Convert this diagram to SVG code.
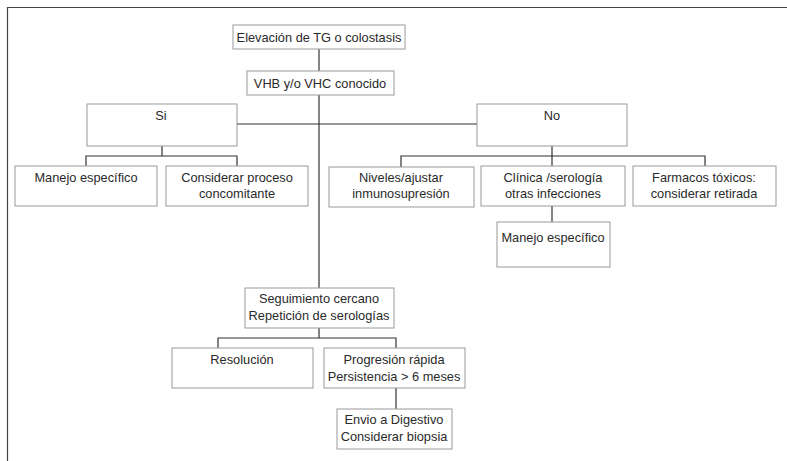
<svg xmlns="http://www.w3.org/2000/svg" width="787" height="461" viewBox="0 0 787 461">
<style>
.box{fill:#fff;stroke:#9a9a9a;stroke-width:1}
.t{font-family:"Liberation Sans",Arial,sans-serif;font-size:12.8px;fill:#2a2a2a;text-anchor:middle}
.c{fill:none;stroke:#333;stroke-width:1.2}
.frame{fill:none;stroke:#444;stroke-width:1.2}
</style>
<rect width="787" height="461" fill="#fff"/>
<path class="frame" d="M7.5,461 V7.5 H787"/>
<g id="connectors">
<path class="c" d="M319,49 V71"/>
<path class="c" d="M319,95 V288"/>
<path class="c" d="M237,124 H477"/>
<path class="c" d="M162,146 V156 M86,166 V156 H237 V166"/>
<path class="c" d="M552,146 V156 M401,167 V156 H705 V166 M552,156 V166"/>
<path class="c" d="M552,206 V222"/>
<path class="c" d="M319,328 V338 M218,348 V338 H396 V348"/>
<path class="c" d="M396,388 V409"/>
</g>
<g id="n1"><rect class="box" x="233" y="25" width="172" height="24"/><text class="t" x="319" y="41.5">Elevación de TG o colostasis</text></g>
<g id="n2"><rect class="box" x="247" y="71" width="147" height="24"/><text class="t" x="320" y="87.5">VHB y/o VHC conocido</text></g>
<g id="n3"><rect class="box" x="87" y="104" width="150" height="42"/><text class="t" x="161" y="120">Si</text></g>
<g id="n4"><rect class="box" x="477" y="104" width="150" height="42"/><text class="t" x="552" y="120">No</text></g>
<g id="n5"><rect class="box" x="15" y="166" width="142" height="40"/><text class="t" x="86" y="182">Manejo específico</text></g>
<g id="n6"><rect class="box" x="166" y="166" width="142" height="40"/><text class="t" x="237" y="182">Considerar proceso</text><text class="t" x="237" y="198">concomitante</text></g>
<g id="n7"><rect class="box" x="329" y="167" width="145" height="40"/><text class="t" x="401" y="182">Niveles/ajustar</text><text class="t" x="401" y="198">inmunosupresión</text></g>
<g id="n8"><rect class="box" x="481" y="166" width="144" height="40"/><text class="t" x="553" y="182">Clínica /serología</text><text class="t" x="553" y="198">otras infecciones</text></g>
<g id="n9"><rect class="box" x="633" y="166" width="143" height="40"/><text class="t" x="704" y="182">Farmacos tóxicos:</text><text class="t" x="704" y="198">considerar retirada</text></g>
<g id="n10"><rect class="box" x="497" y="222" width="113" height="45"/><text class="t" x="553" y="242">Manejo específico</text></g>
<g id="n11"><rect class="box" x="245" y="288" width="149" height="40"/><text class="t" x="319" y="303">Seguimiento cercano</text><text class="t" x="319" y="320">Repetición de serologías</text></g>
<g id="n12"><rect class="box" x="172" y="348" width="141" height="40"/><text class="t" x="242" y="364">Resolución</text></g>
<g id="n13"><rect class="box" x="324" y="348" width="141" height="40"/><text class="t" x="394" y="364">Progresión rápida</text><text class="t" x="394" y="381">Persistencia &gt; 6 meses</text></g>
<g id="n14"><rect class="box" x="337" y="409" width="115" height="40"/><text class="t" x="394" y="424">Envio a Digestivo</text><text class="t" x="394" y="441">Considerar biopsia</text></g>
</svg>
